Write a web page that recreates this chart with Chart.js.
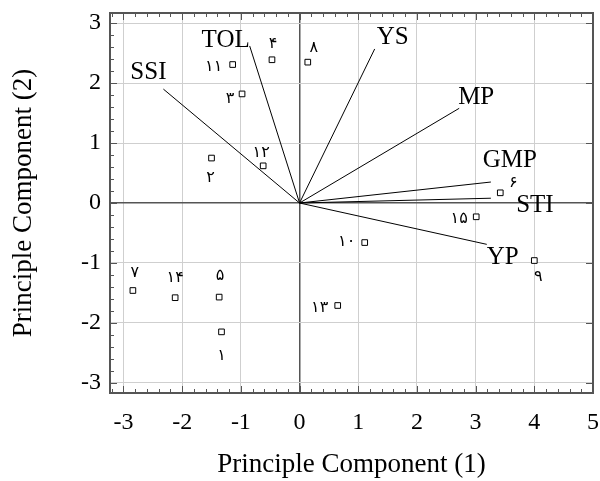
<!DOCTYPE html>
<html>
<head>
<meta charset="utf-8">
<script src="https://cdn.jsdelivr.net/npm/chart.js@4/dist/chart.umd.min.js"></script>
<style>
  html, body { margin: 0; padding: 0; background: #fff; }
  #wrap { width: 600px; height: 481px; }
</style>
</head>
<body>
<div id="wrap"><canvas id="biplot" width="600" height="481"></canvas></div>
<script>
// genotypes (scores)
const genotypes = ['۱', '۲', '۳', '۴', '۵', '۶', '۷', '۸', '۹', '۱۰', '۱۱', '۱۲', '۱۳', '۱۴', '۱۵'];
const genoPc1 = [-1.33, -1.50, -0.98, -0.47, -1.37, 3.42, -2.84, 0.14, 4.00, 1.11, -1.14, -0.62, 0.65, -2.12, 3.01];
const genoPc2 = [-2.15, 0.75, 1.82, 2.39, -1.57, 0.17, -1.46, 2.35, -0.96, -0.66, 2.31, 0.62, -1.71, -1.58, -0.23];

// traits (vectors)
const traits = ['SSI', 'TOL', 'YS', 'MP', 'GMP', 'STI', 'YP'];
const traitPc1 = [-2.32, -0.85, 1.28, 2.72, 3.26, 3.26, 3.19];
const traitPc2 = [1.90, 2.62, 2.57, 1.58, 0.35, 0.08, -0.69];

const xTicks = [-3, -2, -1, 0, 1, 2, 3, 4, 5];
const yTicks = [-3, -2, -1, 0, 1, 2, 3];

const serif = "'Liberation Serif', 'Times New Roman', serif";
const persian = "'DejaVu Sans', 'Liberation Serif', sans-serif";

// where each label sits next to its mark (pixels)
const genoLabelShift = [[0, 24], [-1, 20], [-12, 5], [1, -16], [1, -21], [13, -10], [2, -18], [6, -14],
  [4, 16], [-18, -1], [-19, 2], [-2, -13], [-18, 2], [0, -20], [-17, 2]];
const traitLabelShift = [[-15, -17], [-24, -6], [18, -12], [17, -11], [19, -22], [44, 7], [16, 13]];

const datasets = [];
traits.forEach((t, i) => {
  datasets.push({
    label: t,
    data: [{ x: 0, y: 0 }, { x: traitPc1[i], y: traitPc2[i] }],
    showLine: true,
    borderColor: '#000',
    borderWidth: 1,
    pointRadius: 0,
    pointHoverRadius: 0
  });
});
datasets.push({
  label: 'genotypes',
  data: genotypes.map((g, i) => ({ x: genoPc1[i], y: genoPc2[i] })),
  pointStyle: 'rect',
  pointRadius: 4,
  backgroundColor: '#fff',
  borderColor: '#000',
  borderWidth: 1
});

// frame with inward ticks + labels for points and vectors
const biplotExtras = {
  id: 'biplotExtras',
  afterDatasetsDraw(chart) {
    const c = chart.ctx;
    const a = chart.chartArea;
    const xs = chart.scales.x, ys = chart.scales.y;
    c.save();
    c.strokeStyle = '#555';
    c.lineWidth = 1;
    c.beginPath();
    for (let v = Math.ceil(xs.min * 5) / 5; v <= xs.max + 1e-6; v += 0.2) {
      const px = Math.round(xs.getPixelForValue(v)) + 0.5;
      const major = Math.abs(v - Math.round(v)) < 1e-6;
      const len = major ? 7 : 4;
      c.moveTo(px, a.bottom); c.lineTo(px, a.bottom - len);
      c.moveTo(px, a.top); c.lineTo(px, a.top + len);
    }
    for (let v = Math.ceil(ys.min * 5) / 5; v <= ys.max + 1e-6; v += 0.2) {
      const py = Math.round(ys.getPixelForValue(v)) + 0.5;
      const major = Math.abs(v - Math.round(v)) < 1e-6;
      const len = major ? 7 : 4;
      c.moveTo(a.left, py); c.lineTo(a.left + len, py);
      if (major) { c.moveTo(a.right, py); c.lineTo(a.right - 7, py); }
    }
    c.stroke();
    c.lineWidth = 2;
    c.strokeRect(a.left, a.top, a.right - a.left, a.bottom - a.top);

    c.fillStyle = '#000';
    c.textAlign = 'center';
    c.textBaseline = 'middle';
    c.font = '16px ' + persian;
    genotypes.forEach((g, i) => {
      const px = xs.getPixelForValue(genoPc1[i]);
      const py = ys.getPixelForValue(genoPc2[i]);
      c.fillText(g, px + genoLabelShift[i][0], py + genoLabelShift[i][1]);
    });
    c.font = '25px ' + serif;
    traits.forEach((t, i) => {
      const px = xs.getPixelForValue(traitPc1[i]);
      const py = ys.getPixelForValue(traitPc2[i]);
      c.fillText(t, px + traitLabelShift[i][0], py + traitLabelShift[i][1]);
    });
    c.restore();
  }
};

new Chart(document.getElementById('biplot'), {
  type: 'scatter',
  data: { datasets: datasets },
  options: {
    responsive: false,
    animation: false,
    layout: { padding: { top: 13, right: 7, left: 0, bottom: 0 } },
    plugins: { legend: { display: false }, tooltip: { enabled: false } },
    scales: {
      x: {
        type: 'linear',
        min: -3.23,
        max: 5,
        afterBuildTicks: s => { s.ticks = xTicks.map(v => ({ value: v })); },
        afterFit: s => { s.height = 88; s.paddingLeft = 0; s.paddingRight = 0; },
        border: { display: false },
        grid: {
          drawTicks: false,
          color: ctx => ctx.tick && ctx.tick.value === 0 ? '#555' : '#cfcfcf',
          lineWidth: ctx => ctx.tick && ctx.tick.value === 0 ? 1.5 : 1
        },
        ticks: { color: '#000', padding: 15, font: { family: serif, size: 24 }, maxRotation: 0 },
        title: {
          display: true,
          text: 'Principle Component (1)',
          color: '#000',
          font: { family: serif, size: 27 },
          padding: { top: 0, bottom: 0 }
        }
      },
      y: {
        type: 'linear',
        min: -3.17,
        max: 3.17,
        afterBuildTicks: s => { s.ticks = yTicks.map(v => ({ value: v })); },
        afterFit: s => { s.width = 110; s.paddingTop = 0; s.paddingBottom = 0; },
        border: { display: false },
        grid: {
          drawTicks: false,
          color: ctx => ctx.tick && ctx.tick.value === 0 ? '#555' : '#cfcfcf',
          lineWidth: ctx => ctx.tick && ctx.tick.value === 0 ? 1.5 : 1
        },
        ticks: { color: '#000', padding: 9, font: { family: serif, size: 24 } },
        title: {
          display: true,
          text: 'Principle Component (2)',
          color: '#000',
          font: { family: serif, size: 27 },
          padding: { top: 8, bottom: 0 }
        }
      }
    }
  },
  plugins: [biplotExtras]
});
</script>
</body>
</html>
